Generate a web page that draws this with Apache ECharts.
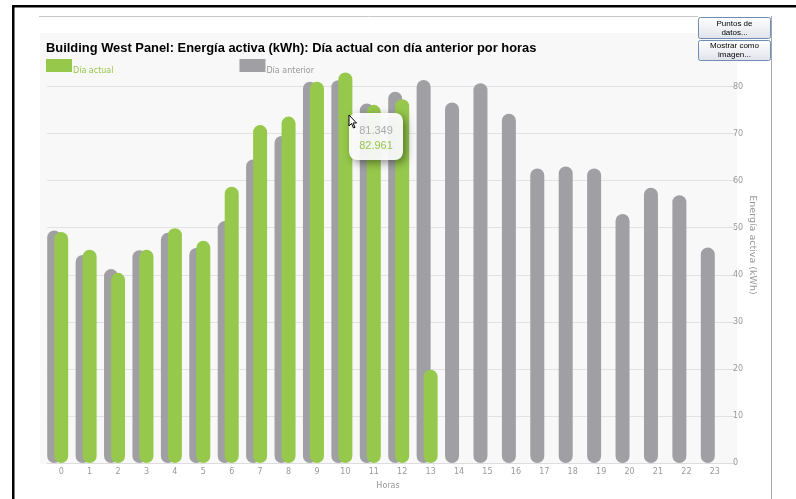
<!DOCTYPE html>
<html><head><meta charset="utf-8">
<script src="https://cdn.jsdelivr.net/npm/echarts@6/dist/echarts.min.js"></script>
<style>html,body{margin:0;padding:0;background:#fff}#c{width:796px;height:499px}</style>
</head><body><div id="c"></div>
<script>
const hours = ['0','1','2','3','4','5','6','7','8','9','10','11','12','13','14','15','16','17','18','19','20','21','22','23'];
const diaActual = [49.1, 45.3, 40.4, 45.3, 49.9, 47.2, 58.7, 71.8, 73.6, 81.0, 82.961, 76.1, 77.3, 19.8];
const diaAnterior = [49.4, 44.2, 41.2, 45.2, 48.9, 45.7, 51.4, 64.5, 69.5, 81.0, 81.349, 76.4, 78.9, 81.4, 76.6, 80.7, 74.2, 62.6, 63.0, 62.6, 52.9, 58.5, 56.9, 45.8];
const yTicks = [0, 80, 10];
const tooltipLabels = ['81.349', '82.961'];
const titleText = 'Building West Panel: Energía activa (kWh): Día actual con día anterior por horas';

const GREEN = '#96c84b', GRAY = '#a0a0a4';
const chart = echarts.init(document.getElementById('c'), null, {renderer: 'canvas'});
const fontF = '"DejaVu Sans", sans-serif';
const btnFont = '"Liberation Sans", Arial, sans-serif';
chart.setOption({
  animation: false,
  backgroundColor: '#fff',
  title: {
    text: titleText, left: 41, top: 37,
    textStyle: {fontFamily: '"Liberation Sans", Arial, sans-serif', fontSize: 12.9, fontWeight: 'bold', color: '#000'}
  },
  legend: {
    left: 46, top: 59, padding: 0, itemWidth: 26, itemHeight: 13, itemGap: 126,
    icon: 'path://M0,0H26V13H0Z',
    formatter: '{t|{name}}',
    data: [
      {name: 'Día actual', textStyle: {color: GREEN}},
      {name: 'Día anterior', textStyle: {color: '#999'}}
    ],
    textStyle: {fontFamily: fontF, fontSize: 8, rich: {t: {fontFamily: fontF, fontSize: 8, padding: [11, 0, 0, -4]}}}
  },
  grid: [
    {left: 47, right: 67, top: 86.5, bottom: 36},
    {left: 40, right: 74, top: 86.5, bottom: 36}
  ],
  xAxis: [
    {type: 'category', gridIndex: 0, data: hours,
     axisLine: {lineStyle: {color: '#ddd'}}, axisTick: {show: false},
     axisLabel: {color: '#999', fontSize: 8, fontFamily: fontF, margin: 5},
     name: 'Horas', nameLocation: 'middle', nameGap: 19,
     nameTextStyle: {color: '#999', fontSize: 8, fontFamily: fontF}},
    {type: 'category', gridIndex: 1, data: hours, show: false}
  ],
  yAxis: [
    {type: 'value', gridIndex: 0, position: 'right', min: yTicks[0], max: yTicks[1], interval: yTicks[2],
     axisLine: {show: false},
     axisTick: {show: true, length: 6, inside: false, lineStyle: {color: '#ddd'}},
     splitLine: {lineStyle: {color: '#e2e2e2'}},
     axisLabel: {color: '#999', fontSize: 8, fontFamily: fontF, margin: 4}},
    {type: 'value', gridIndex: 1, min: yTicks[0], max: yTicks[1], interval: yTicks[2], show: false, splitLine: {show: false}}
  ],
  graphic: [
    {type: 'rect', z: -10, shape: {x: 40, y: 33, width: 697, height: 431}, style: {fill: '#f8f8f8'}, silent: true},
    {type: 'rect', shape: {x: 12, y: 5, width: 784, height: 2.5}, style: {fill: '#000'}},
    {type: 'rect', shape: {x: 12, y: 5, width: 2.5, height: 494}, style: {fill: '#000'}},
    {type: 'line', shape: {x1: 39, y1: 16.5, x2: 698, y2: 16.5}, style: {stroke: '#c8c8c8', lineWidth: 1}},
    {type: 'line', shape: {x1: 771.5, y1: 16, x2: 771.5, y2: 499}, style: {stroke: '#a8a8b0', lineWidth: 1}},
    {type: 'rect', shape: {x: 698.5, y: 17.5, width: 72, height: 21, r: 2},
     style: {fill: new echarts.graphic.LinearGradient(0,0,0,1,[{offset:0,color:'#ffffff'},{offset:1,color:'#dfe3ea'}]), stroke: '#6f8db4', lineWidth: 1}},
    {type: 'text', x: 734.5, y: 28, style: {text: 'Puntos de\ndatos...', align: 'center', verticalAlign: 'middle', fontSize: 8, lineHeight: 9, fontFamily: btnFont, fill: '#000'}},
    {type: 'rect', shape: {x: 698.5, y: 40.5, width: 72, height: 20, r: 2},
     style: {fill: new echarts.graphic.LinearGradient(0,0,0,1,[{offset:0,color:'#ffffff'},{offset:1,color:'#dfe3ea'}]), stroke: '#6f8db4', lineWidth: 1}},
    {type: 'text', x: 734.5, y: 50.5, style: {text: 'Mostrar como\nimagen...', align: 'center', verticalAlign: 'middle', fontSize: 8, lineHeight: 9, fontFamily: btnFont, fill: '#000'}},
    {type: 'text', x: 752, y: 245, rotation: -Math.PI / 2,
     style: {text: 'Energía activa (kWh)', align: 'center', verticalAlign: 'middle', fontSize: 9.5, fontFamily: fontF, fill: '#999'}},
    {type: 'rect', z: 100, shape: {x: 349, y: 113, width: 54, height: 47, r: 8},
     style: {fill: 'rgba(255,255,255,0.93)', shadowBlur: 8, shadowColor: 'rgba(0,0,0,0.45)', shadowOffsetX: 3, shadowOffsetY: 3}},
    {type: 'text', z: 101, x: 376, y: 131, style: {text: tooltipLabels[0], align: 'center', verticalAlign: 'middle', fontSize: 11, fontFamily: '"Liberation Sans", Arial, sans-serif', fill: '#aaa'}},
    {type: 'text', z: 101, x: 376, y: 146, style: {text: tooltipLabels[1], align: 'center', verticalAlign: 'middle', fontSize: 11, fontFamily: '"Liberation Sans", Arial, sans-serif', fill: GREEN}},
    {type: 'polygon', z: 102, shape: {points: [[349,115],[349,126],[351.5,123.5],[353.5,128],[355,127.3],[353,123],[356.5,123]]},
     style: {fill: '#fff', stroke: '#000', lineWidth: 1}}
  ],
  series: [
    {name: 'Día anterior', type: 'bar', xAxisIndex: 1, yAxisIndex: 1, data: diaAnterior, barWidth: 14, clip: false, z: 2,
     itemStyle: {color: GRAY, borderRadius: 7}},
    {name: 'Día actual', type: 'bar', xAxisIndex: 0, yAxisIndex: 0, data: diaActual, barWidth: 14, clip: false, z: 3,
     itemStyle: {color: GREEN, borderRadius: 7}}
  ]
});
</script></body></html>
